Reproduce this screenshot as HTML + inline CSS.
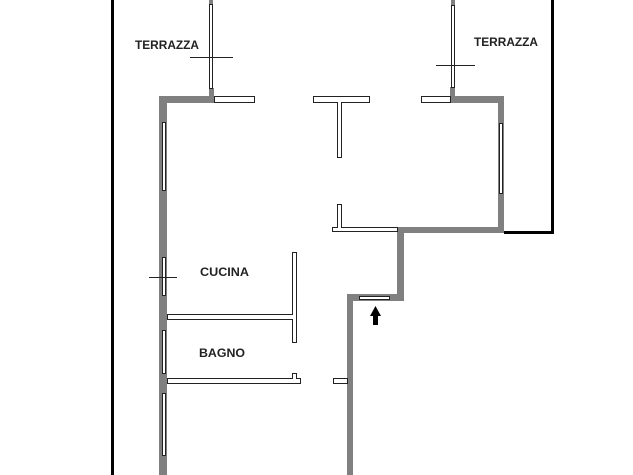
<!DOCTYPE html>
<html><head><meta charset="utf-8"><style>
html,body{margin:0;padding:0;background:#fff;}
svg{display:block;}
text{font-family:"Liberation Sans",sans-serif;font-size:12px;font-weight:bold;fill:#222;}
</style></head><body>
<svg width="633" height="475" viewBox="0 0 633 475" xmlns="http://www.w3.org/2000/svg">
<!-- outer black lines -->
<rect x="111" y="0" width="3" height="475" fill="#000"/>
<rect x="551" y="0" width="3" height="234" fill="#000"/>
<rect x="504" y="231" width="50" height="3" fill="#000"/>

<g fill="#808080">
<!-- left wall -->
<rect x="159" y="96" width="8" height="379"/>
<rect x="159" y="96" width="55" height="7"/>
<rect x="209" y="88" width="5" height="9"/>
<rect x="209" y="0" width="4" height="4"/>
<!-- right block -->
<rect x="450" y="96" width="54" height="7"/>
<rect x="450" y="87" width="5" height="10"/>
<rect x="451" y="0" width="4" height="5"/>
<rect x="498" y="96" width="6" height="137"/>
<rect x="397" y="227" width="107" height="6"/>
<rect x="397" y="227" width="7" height="74"/>
<rect x="347" y="294" width="57" height="7"/>
<rect x="347" y="294" width="6" height="181"/>
</g>

<!-- windows in left wall -->
<g fill="#fff" stroke="#222" stroke-width="1">
<rect x="162.5" y="122.5" width="3" height="68"/>
<rect x="162.5" y="257.5" width="3" height="38"/>
<rect x="162.5" y="330.5" width="3" height="43"/>
<rect x="162.5" y="393.5" width="3" height="62"/>
<!-- right wall window -->
<rect x="499.5" y="123.5" width="3" height="70"/>
<!-- top thin window lines -->
<rect x="209.5" y="4.5" width="3" height="84"/>
<rect x="451.5" y="5.5" width="3" height="82"/>
<!-- entry door -->
<rect x="359.5" y="296.5" width="30" height="3"/>
<!-- outlined partition walls -->
<rect x="214.5" y="96.5" width="40" height="6"/>
<rect x="313.5" y="96.5" width="56" height="6"/>
<rect x="337.5" y="102.5" width="4" height="55"/>
<rect x="421.5" y="96.5" width="29" height="6"/>
<rect x="337.5" y="204.5" width="4" height="24"/>
<rect x="332.5" y="227.5" width="65" height="4"/>
<rect x="333.5" y="378.5" width="14" height="5"/>
<!-- cucina walls -->
<rect x="167.5" y="314.5" width="125" height="5"/>
<rect x="292.5" y="252.5" width="4" height="90"/>
<!-- bagno wall -->
<path d="M167.5 378.5 H292.5 V373.5 H296.5 V378.5 H300.5 V383.5 H167.5 Z"/>
</g>
<rect x="292" y="315" width="4" height="4" fill="#fff"/>
<rect x="338" y="227" width="3" height="2" fill="#fff"/>
<rect x="338" y="102" width="3" height="2" fill="#fff"/>

<!-- crosshairs -->
<g stroke="#222" stroke-width="1">
<line x1="190" y1="57.5" x2="233" y2="57.5"/>
<line x1="436" y1="65.5" x2="475" y2="65.5"/>
<line x1="149" y1="277.5" x2="177" y2="277.5"/>
</g>

<!-- arrow -->
<path d="M375.5 306 L381 316 L378 316 L378 325 L373 325 L373 316 L370 316 Z" fill="#000"/>

<text x="135" y="49" textLength="64" lengthAdjust="spacingAndGlyphs">TERRAZZA</text>
<text x="474" y="46" textLength="64" lengthAdjust="spacingAndGlyphs">TERRAZZA</text>
<text x="200" y="276" textLength="49" lengthAdjust="spacingAndGlyphs">CUCINA</text>
<text x="199" y="357" textLength="46" lengthAdjust="spacingAndGlyphs">BAGNO</text>
</svg>
</body></html>
